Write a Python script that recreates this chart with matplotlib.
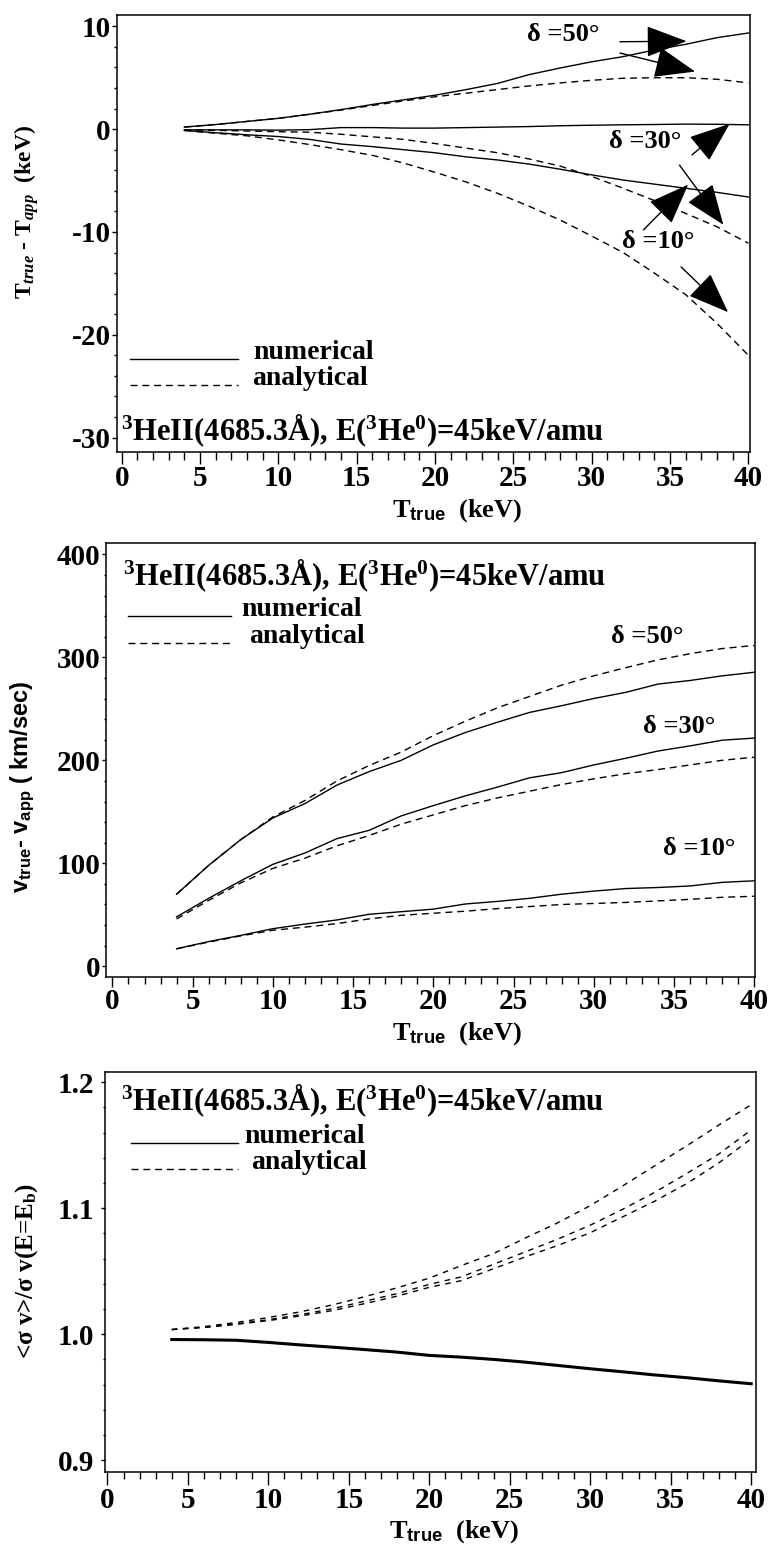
import matplotlib
matplotlib.use("Agg")
import matplotlib.pyplot as plt
from matplotlib.ticker import MultipleLocator, FormatStrFormatter

plt.rcParams["font.family"] = ["Liberation Serif", "DejaVu Serif"]
plt.rcParams["font.weight"] = "bold"
plt.rcParams["axes.unicode_minus"] = False
plt.rcParams["mathtext.fontset"] = "custom"
plt.rcParams["mathtext.rm"] = "Liberation Serif:bold"
plt.rcParams["mathtext.bf"] = "Liberation Serif:bold"
plt.rcParams["mathtext.it"] = "Liberation Serif:bold:italic"
plt.rcParams["mathtext.sf"] = "Liberation Sans:bold"

# ---- data ----
t_true = [4, 6, 8, 10, 12, 14, 16, 18, 20, 22, 24, 26, 28, 30, 32, 34, 36, 38, 40]

# panel 1: T_true - T_app (keV)
dT_num_50 = [0.2, 0.45, 0.75, 1.05, 1.45, 1.9, 2.4, 2.85, 3.3, 3.85, 4.45, 5.3,
             5.95, 6.55, 7.05, 7.7, 8.25, 8.9, 9.35]
dT_ana_50 = [0.2, 0.45, 0.75, 1.05, 1.45, 1.85, 2.3, 2.75, 3.15, 3.5, 3.85, 4.2,
             4.5, 4.75, 4.95, 5.0, 5.0, 4.85, 4.5]
dT_num_30 = [-0.07, -0.07, -0.07, -0.1, -0.05, 0.15, 0.15, 0.1, 0.1, 0.15, 0.2,
             0.25, 0.33, 0.38, 0.42, 0.45, 0.49, 0.47, 0.42]
dT_ana_30 = [-0.07, -0.12, -0.18, -0.25, -0.3, -0.5, -0.75, -1.0, -1.4, -1.85,
             -2.3, -2.9, -3.6, -4.6, -5.75, -6.95, -8.2, -9.5, -11.1]
dT_num_10 = [-0.13, -0.35, -0.55, -0.72, -1.0, -1.45, -1.7, -2.0, -2.3, -2.7,
             -3.0, -3.4, -3.9, -4.45, -4.95, -5.35, -5.75, -6.15, -6.6]
dT_ana_10 = [-0.13, -0.4, -0.65, -1.05, -1.5, -2.0, -2.55, -3.3, -4.2, -5.15,
             -6.25, -7.5, -8.85, -10.4, -12.0, -14.0, -16.1, -18.9, -22.0]

# panel 2: v_true - v_app (km/sec)
dv_num_50 = [70, 98, 123, 144, 158, 176, 189, 200, 215, 227, 237, 246.5, 253,
             260, 266, 274, 277.5, 282, 285.5]
dv_ana_50 = [70, 98, 123, 145, 161, 180, 195, 208, 224, 238, 251, 262, 273,
             282, 290, 297.5, 303.5, 308.5, 311.5]
dv_num_30 = [48, 66, 83, 99, 110, 124, 132, 146, 156, 165.5, 174, 183, 188,
             195.5, 202, 209, 214, 219.5, 221.6]
dv_ana_30 = [46, 64, 81, 95, 105, 117, 127, 138, 147, 156, 163.5, 170, 176.5,
             182, 187, 191, 195.5, 200, 203]
dv_num_10 = [17, 24, 30, 36.5, 41, 45, 50.5, 53, 55.5, 60.5, 63, 66, 70, 73,
             75.5, 76.5, 78, 81.5, 83]
dv_ana_10 = [17, 23.5, 29.5, 35, 38, 41.5, 46, 49.5, 51.5, 53.5, 56, 58, 60,
             61, 62, 63.5, 65, 67, 68]

# panel 3: <sigma v>/sigma v(E=E_b)
sv_num = [0.9958, 0.9956, 0.9952, 0.9935, 0.9915, 0.9897, 0.9878, 0.9858,
          0.9832, 0.9818, 0.9800, 0.9778, 0.9752, 0.9726, 0.9702, 0.9677,
          0.9655, 0.9630, 0.9607]
sv_ana_a = [1.0037, 1.0060, 1.0093, 1.0132, 1.0178, 1.0233, 1.0298, 1.0368,
            1.0445, 1.0545, 1.0640, 1.0765, 1.0885, 1.1020, 1.1175, 1.1335,
            1.1495, 1.1660, 1.1820]
sv_ana_b = [1.0037, 1.0055, 1.0082, 1.0115, 1.0155, 1.0203, 1.0262, 1.0322,
            1.0395, 1.0455, 1.0555, 1.0655, 1.0755, 1.0865, 1.0990, 1.1125,
            1.1275, 1.1430, 1.1620]
sv_ana_c = [1.0037, 1.0053, 1.0078, 1.0108, 1.0145, 1.0188, 1.0243, 1.0302,
            1.0372, 1.0425, 1.0520, 1.0615, 1.0705, 1.0805, 1.0930, 1.1055,
            1.1195, 1.1360, 1.1550]

delta_labels = ["\u03b4 =50\u00b0", "\u03b4 =30\u00b0", "\u03b4 =10\u00b0"]
header = "$^{3}$HeII(4685.3\u00c5), E($^{3}$He$^{0}$)=45keV/amu"

W, H = 768, 1553
fig = plt.figure(figsize=(W / 100, H / 100), dpi=100)


def box(l, t, r, b):
    return [l / W, 1 - b / H, (r - l) / W, (b - t) / H]


def fpos(x, y):
    return x / W, 1 - y / H


DASH = (0, (5, 3.5))
LW = 1.0


def style_axes(ax, xmaj_len, xmin_len, ylen, ypad, xpad):
    for s in ax.spines.values():
        s.set_linewidth(1.1)
    ax.xaxis.set_major_locator(MultipleLocator(5))
    ax.xaxis.set_minor_locator(MultipleLocator(1))
    ax.tick_params(axis="x", which="major", direction="out", length=xmaj_len,
                   width=1, pad=xpad, labelsize=21, top=False)
    ax.tick_params(axis="x", which="minor", direction="out", length=xmin_len,
                   width=1, top=False)
    ax.tick_params(axis="y", which="major", direction="out", length=ylen,
                   width=1, pad=ypad, labelsize=21, right=False)
    ax.tick_params(axis="y", which="minor", direction="out", length=ylen * 0.6,
                   width=1, right=False)
    for lab in ax.get_xticklabels() + ax.get_yticklabels():
        lab.set_fontweight("bold")


def legend_block(y_num, y_ana, x0, x1, xt_num, xt_ana):
    for y, ls, xt, txt in [(y_num, "-", xt_num, "numerical"),
                           (y_ana, DASH, xt_ana, "analytical")]:
        fig.add_artist(plt.Line2D([x0 / W, x1 / W], [1 - y / H, 1 - y / H],
                                  transform=fig.transFigure, color="k",
                                  lw=LW, linestyle=ls))
        fig.text(*fpos(xt, y), txt, fontsize=20, fontweight="bold",
                 va="baseline", ha="left")


# ---------------- panel 1 ----------------
ax1 = fig.add_axes(box(117, 15, 750, 452))
ax1.plot(t_true, dT_num_50, "k-", lw=LW)
ax1.plot(t_true, dT_ana_50, color="k", ls=DASH, lw=LW)
ax1.plot(t_true, dT_num_30, "k-", lw=LW)
ax1.plot(t_true, dT_ana_30, color="k", ls=DASH, lw=LW)
ax1.plot(t_true, dT_num_10, "k-", lw=LW)
ax1.plot(t_true, dT_ana_10, color="k", ls=DASH, lw=LW)
ax1.set_xlim(-0.3, 40.1)
ax1.set_ylim(-31.4, 11.1)
ax1.yaxis.set_major_locator(MultipleLocator(10))
ax1.yaxis.set_minor_locator(MultipleLocator(2))
style_axes(ax1, 8.6, 5.8, 3.6, 1, 1)

ax1.text(28.2, 9.2, delta_labels[0], fontsize=19, ha="center", va="center")
ax1.text(33.4, -1.2, delta_labels[1], fontsize=19, ha="center", va="center")
ax1.text(34.25, -10.9, delta_labels[2], fontsize=19, ha="center", va="center")

arrows1 = [((31.8, 8.5), (36.05, 8.55)),
           ((31.8, 7.4), (36.6, 5.6)),
           ((36.4, -2.5), (38.8, 0.52)),
           ((35.6, -3.5), (38.4, -9.3)),
           ((33.3, -9.8), (36.15, -5.4)),
           ((35.7, -13.4), (38.7, -17.8))]
for tail, tip in arrows1:
    ax1.annotate("", xy=tip, xytext=tail,
                 arrowprops=dict(arrowstyle="-|>,head_length=1.3,head_width=0.5",
                                 mutation_scale=20, color="k", lw=1,
                                 shrinkA=0, shrinkB=0))

legend_block(359, 385, 130, 238, 253, 252)
fig.text(*fpos(121, 440), header, fontsize=22, fontweight="bold",
         va="baseline", ha="left")
fig.text(*fpos(27, 212),
         "T$_{true}$ - T$_{app}$  (keV)", fontsize=17, fontweight="bold",
         rotation=90, ha="center", va="center")
fig.text(*fpos(392, 517), "T$_{\\mathsf{true}}$  (keV)", fontsize=19,
         fontweight="bold", ha="left", va="baseline")

# ---------------- panel 2 ----------------
ax2 = fig.add_axes(box(106, 543, 755, 977))
ax2.plot(t_true, dv_num_50, "k-", lw=LW)
ax2.plot(t_true, dv_ana_50, color="k", ls=DASH, lw=LW)
ax2.plot(t_true, dv_num_30, "k-", lw=LW)
ax2.plot(t_true, dv_ana_30, color="k", ls=DASH, lw=LW)
ax2.plot(t_true, dv_num_10, "k-", lw=LW)
ax2.plot(t_true, dv_ana_10, color="k", ls=DASH, lw=LW)
ax2.set_xlim(-0.4, 40.05)
ax2.set_ylim(-10.4, 411)
ax2.yaxis.set_major_locator(MultipleLocator(100))
ax2.yaxis.set_minor_locator(MultipleLocator(20))
style_axes(ax2, 7.2, 5, 3, 1, 1)

ax2.text(33.3, 320.5, delta_labels[0], fontsize=19, ha="center", va="center")
ax2.text(35.3, 233, delta_labels[1], fontsize=19, ha="center", va="center")
ax2.text(36.6, 114.5, delta_labels[2], fontsize=19, ha="center", va="center")

fig.text(*fpos(123, 585), header, fontsize=22, fontweight="bold",
         va="baseline", ha="left")
legend_block(616, 643, 128, 231, 241, 249)
fig.text(*fpos(22, 787),
         "v$_{\\mathsf{true}}$- v$_{\\mathsf{app}}$ ( km/sec)", fontsize=17,
         fontweight="bold", family="Liberation Sans",
         rotation=90, ha="center", va="center")
fig.text(*fpos(392, 1040), "T$_{\\mathsf{true}}$  (keV)", fontsize=19,
         fontweight="bold", ha="left", va="baseline")

# ---------------- panel 3 ----------------
ax3 = fig.add_axes(box(105, 1072, 756, 1472))
ax3.plot(t_true, sv_num, "k-", lw=2.2)
ax3.plot(t_true, sv_ana_a, color="k", ls=(0, (4, 4)), lw=LW)
ax3.plot(t_true, sv_ana_b, color="k", ls=(0, (4, 4)), lw=LW)
ax3.plot(t_true, sv_ana_c, color="k", ls=(0, (4, 4)), lw=LW)
ax3.set_xlim(-0.15, 40.3)
ax3.set_ylim(0.8907, 1.208)
ax3.yaxis.set_major_locator(MultipleLocator(0.1))
ax3.yaxis.set_minor_locator(MultipleLocator(0.02))
ax3.yaxis.set_major_formatter(FormatStrFormatter("%.1f"))
style_axes(ax3, 9, 5, 3, 5, 2)

fig.text(*fpos(121, 1110), header, fontsize=22, fontweight="bold",
         va="baseline", ha="left")
legend_block(1143, 1169, 131, 238, 244, 251)
fig.text(*fpos(27, 1271),
         "<\u03c3 v>/\u03c3 v(E=E$_{\\mathrm{b}}$)", fontsize=18,
         fontweight="bold", rotation=90, ha="center", va="center")
fig.text(*fpos(389, 1538), "T$_{\\mathsf{true}}$  (keV)", fontsize=19,
         fontweight="bold", ha="left", va="baseline")

fig.savefig("out.png", dpi=100, facecolor="white")
